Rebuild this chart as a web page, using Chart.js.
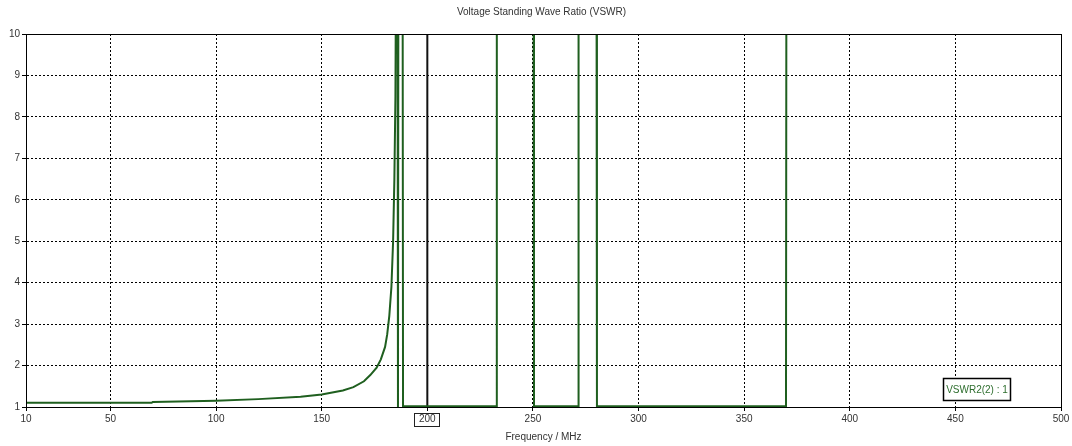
<!DOCTYPE html>
<html>
<head>
<meta charset="utf-8">
<script src="https://cdn.jsdelivr.net/npm/chart.js@4/dist/chart.umd.min.js"></script>
<style>
  html, body { margin: 0; padding: 0; background: #fff; }
  canvas { display: block; }
</style>
</head>
<body>
<canvas id="vswr" width="1072" height="446"></canvas>
<script>
// Lecturas de la curva VSWR (frecuencia en MHz). Valores > 10 quedan fuera del gráfico.
const freqMHz = [10, 69.5, 70, 100, 120, 140, 150, 160, 165, 170, 173, 176, 178, 180, 181, 182, 183, 183.8, 184.4, 184.9, 185.2,
  185.9, 186.1, 186.3, 188.3, 188.5, 232.7, 232.9, 250.3, 250.5, 271.4, 271.6, 280.1, 280.3, 369.8, 370, 500];
const vswrValues = [1.10, 1.10, 1.12, 1.15, 1.19, 1.25, 1.30, 1.40, 1.48, 1.62, 1.77, 1.95, 2.15, 2.45, 2.75, 3.2, 3.9, 5.0, 6.5, 8.5, 12,
  12, 1.0, 12, 12, 1.02, 1.02, 12, 12, 1.02, 1.02, 12, 12, 1.02, 1.02, 12, 12];
const markerFreq = [200, 200];
const markerVswr = [1, 10];
const xTicks = [10, 50, 100, 150, 200, 250, 300, 350, 400, 450, 500];
const yTicks = [1, 2, 3, 4, 5, 6, 7, 8, 9, 10];
const titleText = 'Voltage Standing Wave Ratio (VSWR)';
const xTitle = 'Frequency / MHz';
const legendText = 'VSWR2(2) : 1';

const FONT = 'Liberation Sans';
const GREEN = '#1f5f1f';

const frameAndNotes = {
  id: 'frameAndNotes',
  afterDraw(chart) {
    const { ctx, chartArea: a, scales } = chart;
    ctx.save();
    ctx.setLineDash([]);
    // marco completo del área
    ctx.strokeStyle = '#000';
    ctx.lineWidth = 1;
    ctx.strokeRect(Math.round(a.left) + 0.5, Math.round(a.top) + 0.5,
      Math.round(a.right - a.left), Math.round(a.bottom - a.top));
    // título
    ctx.fillStyle = '#333';
    ctx.font = `10px "${FONT}"`;
    ctx.textAlign = 'center';
    ctx.textBaseline = 'middle';
    ctx.fillText(titleText, (a.left + a.right) / 2 - 2, 12);
    // recuadro en la etiqueta del marcador
    const mx = Math.round(scales.x.getPixelForValue(markerFreq[0]));
    ctx.strokeStyle = '#222';
    ctx.strokeRect(mx - 12.5, Math.round(a.bottom) + 6.5, 25, 13);
    // leyenda
    const bx = Math.round(a.right) - 118, by = Math.round(a.bottom) - 29;
    ctx.fillStyle = '#fff';
    ctx.fillRect(bx, by, 67, 22);
    ctx.lineWidth = 1.5;
    ctx.strokeStyle = '#000';
    ctx.strokeRect(bx + 0.5, by + 0.5, 67, 22);
    ctx.fillStyle = '#2e6e2e';
    ctx.fillText(legendText, bx + 34, by + 12);
    ctx.restore();
  },
};

new Chart(document.getElementById('vswr'), {
  type: 'line',
  data: {
    datasets: [
      {
        label: legendText,
        data: freqMHz.map((f, i) => ({ x: f, y: vswrValues[i] })),
        borderColor: GREEN,
        borderWidth: 2,
        pointRadius: 0,
        tension: 0,
      },
      {
        label: 'marker',
        data: markerFreq.map((f, i) => ({ x: f, y: markerVswr[i] })),
        borderColor: '#111',
        borderWidth: 2,
        pointRadius: 0,
      },
    ],
  },
  options: {
    responsive: false,
    animation: false,
    layout: { padding: { top: 34, right: 11, left: 0, bottom: 0 } },
    plugins: { legend: { display: false }, title: { display: false }, tooltip: { enabled: false } },
    scales: {
      x: {
        type: 'linear',
        min: 10,
        max: 500,
        afterBuildTicks: (s) => { s.ticks = xTicks.map((v) => ({ value: v })); },
        afterFit: (s) => { s.height = 39; },
        grid: { color: '#000', lineWidth: 1, tickLength: 4 },
        border: { color: '#000', width: 1, dash: [2, 2] },
        ticks: { color: '#333', font: { family: FONT, size: 10 }, padding: 2, maxRotation: 0, autoSkip: false },
        title: { display: true, text: xTitle, color: '#333', font: { family: FONT, size: 10 }, padding: { top: 0, bottom: 3 } },
      },
      y: {
        min: 1,
        max: 10,
        afterBuildTicks: (s) => { s.ticks = yTicks.map((v) => ({ value: v })); },
        afterFit: (s) => { s.width = 26; },
        grid: { color: '#000', lineWidth: 1, tickLength: 4 },
        border: { color: '#000', width: 1, dash: [2, 2] },
        ticks: { color: '#333', font: { family: FONT, size: 10 }, padding: 2 },
      },
    },
  },
  plugins: [frameAndNotes],
});
</script>
</body>
</html>
